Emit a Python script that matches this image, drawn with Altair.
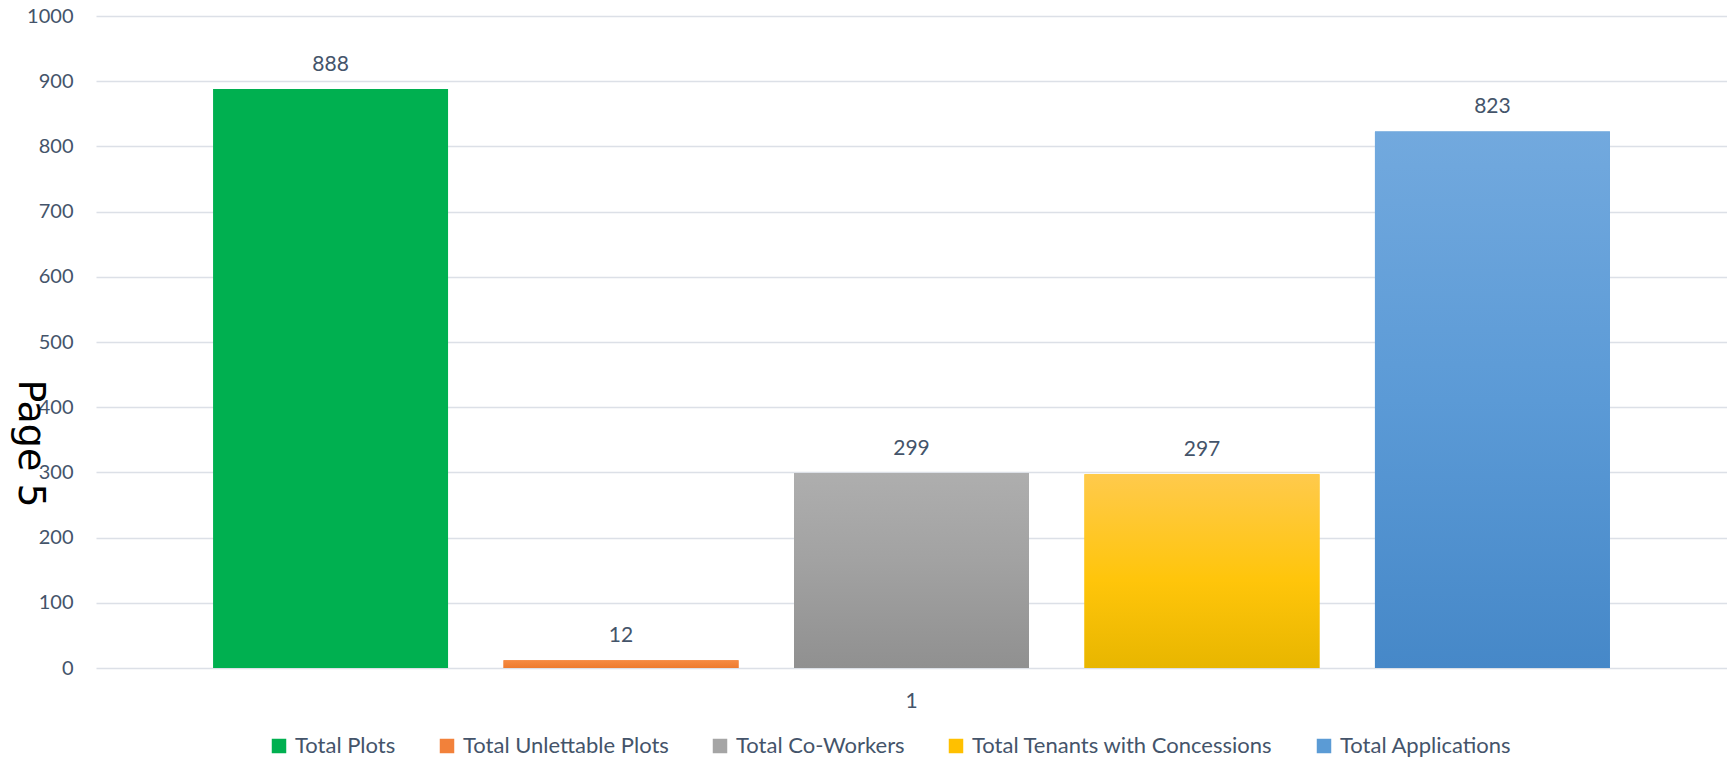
import altair as alt
import pandas as pd

# ---- data ----
series = ["Total Plots", "Total Unlettable Plots", "Total Co-Workers",
          "Total Tenants with Concessions", "Total Applications"]
values = [888, 12, 299, 297, 823]
groups = ["1", "1", "1", "1", "1"]
legend_colors = ["#00B050", "#F2813A", "#A5A5A5", "#FFC000", "#5B9BD5"]

# gradient stops per series (top -> bottom)
gradients = {
    "Total Unlettable Plots": [("#F68B42", 0), ("#EE7B2F", 1)],
    "Total Co-Workers": [("#AEAEAE", 0), ("#A2A2A2", 0.45), ("#909090", 1)],
    "Total Tenants with Concessions": [("#FFCA4C", 0), ("#FFC50A", 0.55), ("#E8B600", 1)],
    "Total Applications": [("#72A9DE", 0), ("#5B9AD6", 0.5), ("#4688C8", 1)],
}

df = pd.DataFrame({"grp": groups, "series": series, "value": values})

TXT = "#44546A"
FONT = "Lato"

x_enc = alt.X("grp:N", title=None,
              scale=alt.Scale(paddingOuter=0.0838, paddingInner=0),
              axis=alt.Axis(labelAngle=0, domain=False, ticks=False, labelPadding=22,
                            labelFont=FONT, labelFontSize=21, labelColor=TXT, grid=False))
xo_enc = alt.XOffset("series:N", sort=series,
                     scale=alt.Scale(domain=series, paddingInner=0.191, paddingOuter=0))
y_enc = alt.Y("value:Q",
              scale=alt.Scale(domain=[0, 1000], nice=False),
              axis=alt.Axis(values=list(range(0, 1001, 100)), format="d", grid=True,
                            domain=False, ticks=False, labelPadding=23, labelFont=FONT,
                            labelFontSize=20, labelColor=TXT, gridColor="#DCE0E7",
                            gridWidth=1.4,
                            title="Page 5", titleAngle=90, titleX=-67, titleY=427,
                            titleFont="DejaVu Sans", titleFontSize=38, titleFontWeight="normal",
                            titleColor="#000000", titleAlign="center", titleBaseline="middle"))

base = alt.Chart(df)

bars = base.mark_bar().encode(
    x=x_enc, xOffset=xo_enc, y=y_enc,
    color=alt.Color("series:N", sort=series,
                    scale=alt.Scale(domain=series, range=legend_colors),
                    legend=alt.Legend(title=None, orient="none", direction="horizontal",
                                      columns=5, legendX=172, legendY=719,
                                      symbolType="square", symbolSize=210,
                                      symbolStrokeWidth=0, symbolOpacity=1,
                                      labelFont=FONT, labelFontSize=22, labelColor=TXT,
                                      labelLimit=0, labelOffset=5, columnPadding=40)),
)

layers = [bars]
for name, stops in gradients.items():
    grad = alt.Gradient(gradient="linear", x1=0, x2=0, y1=0, y2=1,
                        stops=[alt.GradientStop(color=c, offset=o) for c, o in stops])
    layers.append(
        base.transform_filter(alt.datum.series == name)
        .mark_bar(fill=grad)
        .encode(x=x_enc, xOffset=xo_enc, y=y_enc)
    )

labels = base.mark_text(dy=-24, baseline="middle", font=FONT, fontSize=21, color=TXT).encode(
    x=x_enc, xOffset=xo_enc, y=y_enc, text=alt.Text("value:Q"))
layers.append(labels)

chart = alt.layer(*layers).properties(
    width=1631, height=652,
    autosize=alt.AutoSizeParams(type="none"),
    padding={"left": 88, "top": 8, "right": 0, "bottom": 91},
    background="white",
).configure_view(stroke=None)

chart.save("out.html", embed_options={"renderer": "svg", "actions": False})
